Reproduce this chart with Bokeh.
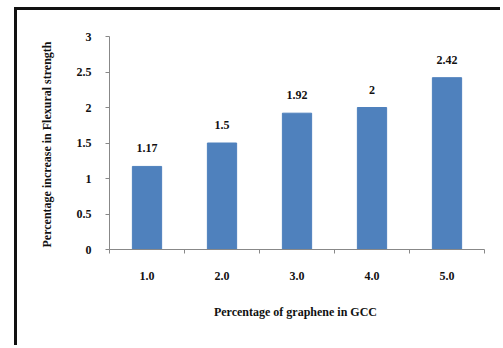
from bokeh.plotting import figure
from bokeh.models import ColumnDataSource, FixedTicker, Range1d, NumeralTickFormatter
from bokeh.core.properties import value
from bokeh.embed import file_html
from bokeh.resources import INLINE

graphene_pct = [1.0, 2.0, 3.0, 4.0, 5.0]
flexural_increase = [1.17, 1.5, 1.92, 2.0, 2.42]
value_labels = ["1.17", "1.5", "1.92", "2", "2.42"]
y_ticks = [0, 0.5, 1, 1.5, 2, 2.5, 3]

FONT = "Liberation Serif"

src = ColumnDataSource(dict(x=graphene_pct, y=flexural_increase, lbl=value_labels))

p = figure(width=486, height=338, output_backend="svg", toolbar_location=None,
           x_range=Range1d(0.5, 5.5), y_range=Range1d(0, 3),
           min_border_left=92, min_border_right=19, min_border_top=26, min_border_bottom=99)
p.styles = {"margin-left": "14px", "margin-top": "7px",
            "border-left": "3px solid #111", "border-top": "3px solid #111"}

p.vbar(x="x", top="y", width=0.39, source=src, fill_color="#4f81bd", line_color="#4f81bd")
p.text(x="x", y="y", text="lbl", source=src, text_align="center", text_baseline="middle",
       y_offset=-18, text_font=value(FONT), text_font_style="bold", text_font_size="12px",
       text_color="#111111")

p.xgrid.visible = False
p.ygrid.visible = False
p.outline_line_color = None
p.background_fill_color = "white"
p.border_fill_color = "white"

xa = p.xaxis[0]
xa.ticker = FixedTicker(ticks=graphene_pct, minor_ticks=[0.5, 1.5, 2.5, 3.5, 4.5, 5.5])
xa.formatter = NumeralTickFormatter(format="0.0")
xa.major_tick_line_color = None
xa.minor_tick_line_color = "#888888"
xa.minor_tick_out = 4
xa.minor_tick_in = 0
xa.axis_line_color = "#888888"
xa.major_label_standoff = 16
xa.axis_label = "Percentage  of graphene in GCC"
xa.axis_label_standoff = 22

ya = p.yaxis[0]
ya.ticker = FixedTicker(ticks=y_ticks, minor_ticks=[])
ya.major_tick_line_color = "#888888"
ya.major_tick_out = 4
ya.major_tick_in = 0
ya.minor_tick_line_color = None
ya.axis_line_color = "#888888"
ya.major_label_standoff = 14
ya.axis_label = "Percentage  increase in Flexural strength"
ya.axis_label_standoff = 20

for ax in (xa, ya):
    ax.major_label_text_font = FONT
    ax.major_label_text_font_style = "bold"
    ax.major_label_text_font_size = "12px"
    ax.major_label_text_color = "#111111"
    ax.axis_label_text_font = FONT
    ax.axis_label_text_font_style = "bold"
    ax.axis_label_text_font_size = "12px"
    ax.axis_label_text_color = "#111111"

open("out.html", "w").write(file_html(p, INLINE))
